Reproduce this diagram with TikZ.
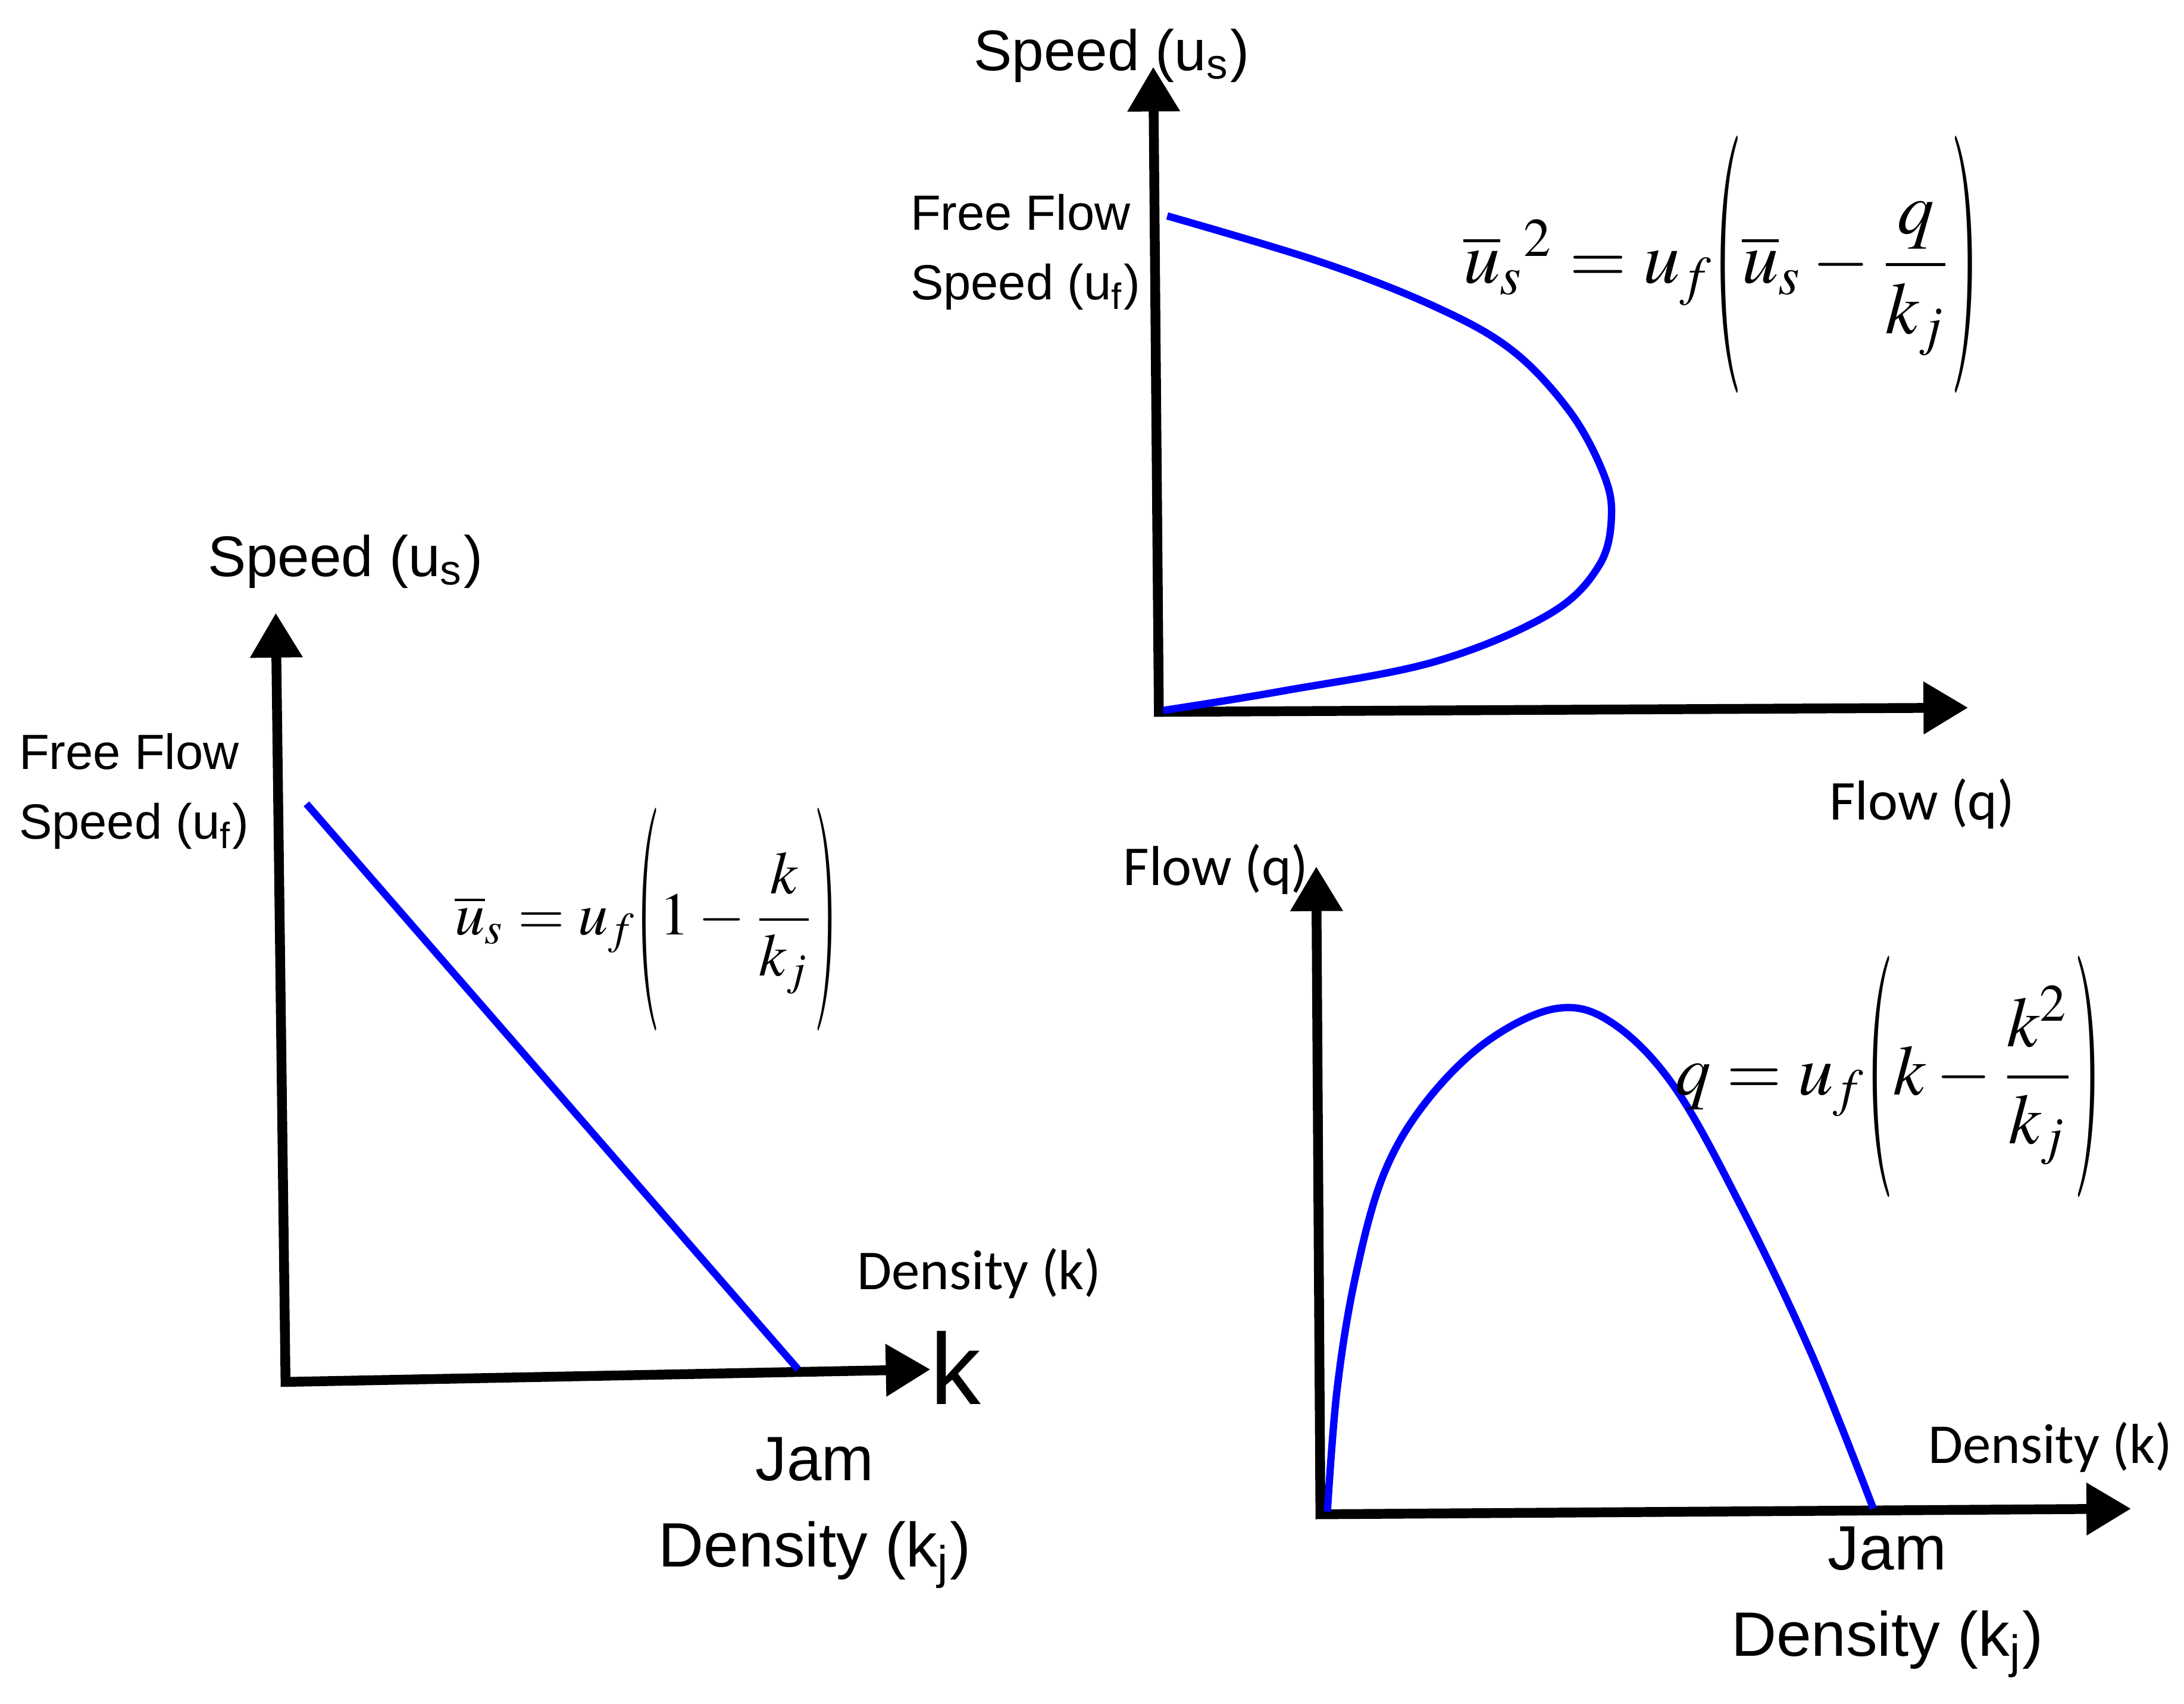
\documentclass[tikz,border=0pt]{standalone}
\usepackage{amsmath}
\usepackage{mathptmx}
\usepackage[no-math]{fontspec}
\usepackage{tikz}
\newfontfamily\arialfont{Liberation Sans}
\newfontfamily\calfont{Carlito}
\usetikzlibrary{arrows.meta}
\usetikzlibrary{positioning}
\newcommand{\eqlpar}[1]{\mathopen{\vcenter{\hbox{\scalebox{1}[#1]{$($}}}}}
\newcommand{\eqrpar}[1]{\mathclose{\vcenter{\hbox{\scalebox{1}[#1]{$)$}}}}}
\tikzset{axisline/.style = {line width=2pt,
                            {Triangle[length=3.2mm, width=3.6mm]}-{Triangle[length=3.2mm, width=3.6mm]}},
         flowcurve/.style = {blue, line width=1.5pt},
         speedlab/.style = {font=\arialfont\fontsize{11.7}{14}\selectfont, inner sep=0pt},
         freelab/.style = {font=\arialfont\fontsize{10.1}{14.2}\selectfont, inner sep=0pt, align=left, anchor=west},
         jamlab/.style = {font=\arialfont\fontsize{12.8}{17.6}\selectfont, inner sep=0pt, align=center},
         callab/.style = {font=\calfont\fontsize{11.5}{14}\selectfont, inner sep=0pt},
         eqn/.style = {inner sep=0pt}}

\begin{document}
\begin{tikzpicture}[x=0.01cm, y=-0.01cm]
      \useasboundingbox (0,0) rectangle (1568,1223);

      % speed - density
      \coordinate (oL) at (205,992);
      \coordinate (yL) at (198,440);
      \coordinate (xL) at (668,983);
      \coordinate (ufL) at (220,577);
      \coordinate (kjL) at (573,983);
      \draw [axisline] (yL) -- (oL) -- (xL);
      \draw [flowcurve] (ufL) -- (kjL);
      \node [speedlab] (speedL) at (248,403) {Speed (u\textsubscript{s})};
      \node [freelab] (freeL) at (13,568) {Free Flow\\Speed (u\textsubscript{f})};
      \node [callab] (densL) at (703,914) {Density (k)};
      \node [font=\arialfont\fontsize{20.6}{22}\selectfont, inner sep=0pt] (kL) at (686,982) {k};
      \node [jamlab] (jamL) at (585,1086) {Jam\\Density (k\textsubscript{j})};
      \node [eqn, font=\fontsize{12.3}{15}\selectfont] (eqL) at (464,660)
        {$\overline{u}_s = u_f\eqlpar{3.7}1-\dfrac{k}{k_j}\eqrpar{3.7}$};

      % speed - flow
      \coordinate (oT) at (832,511);
      \coordinate (yT) at (828,48);
      \coordinate (xT) at (1413,508);
      \draw [axisline] (yT) -- (oT) -- (xT);
      \draw [flowcurve] plot [smooth, tension=0.6] coordinates {(838,155) (948,188) (1030,220)
        (1085,251) (1126,294) (1150,337) (1157,369) (1148,406) (1112,441) (1030,475) (921,496) (835,510)};
      \node [speedlab] (speedT) at (798,40) {Speed (u\textsubscript{s})};
      \node [freelab] (freeT) at (653,181) {Free Flow\\Speed (u\textsubscript{f})};
      \node [callab] (flowT) at (1380,577) {Flow (q)};
      \node [eqn, font=\fontsize{15}{17}\selectfont] (eqT) at (1236,190)
        {${\overline{u}_s}^{2} = u_f\eqlpar{3.5}\overline{u}_s - \dfrac{q}{k_j}\eqrpar{3.5}$};

      % flow - density
      \coordinate (oB) at (948,1087);
      \coordinate (yB) at (945,622);
      \coordinate (xB) at (1530,1083);
      \draw [axisline] (yB) -- (oB) -- (xB);
      \draw [flowcurve] plot [smooth, tension=0.6] coordinates {(953,1085) (960,997) (973,917)
        (993,844) (1023,792) (1067,748) (1117,724) (1157,734) (1202,780) (1251,868) (1301,973) (1345,1083)};
      \node [callab] (flowB) at (873,624) {Flow (q)};
      \node [callab] (densB) at (1472,1039) {Density (k)};
      \node [jamlab] (jamB) at (1355,1150) {Jam\\Density (k\textsubscript{j})};
      \node [eqn, font=\fontsize{14.5}{16}\selectfont] (eqB) at (1356,773)
        {$q = u_f\eqlpar{3.4}k-\dfrac{k^2}{k_j}\eqrpar{3.4}$};
\end{tikzpicture}
\end{document}
